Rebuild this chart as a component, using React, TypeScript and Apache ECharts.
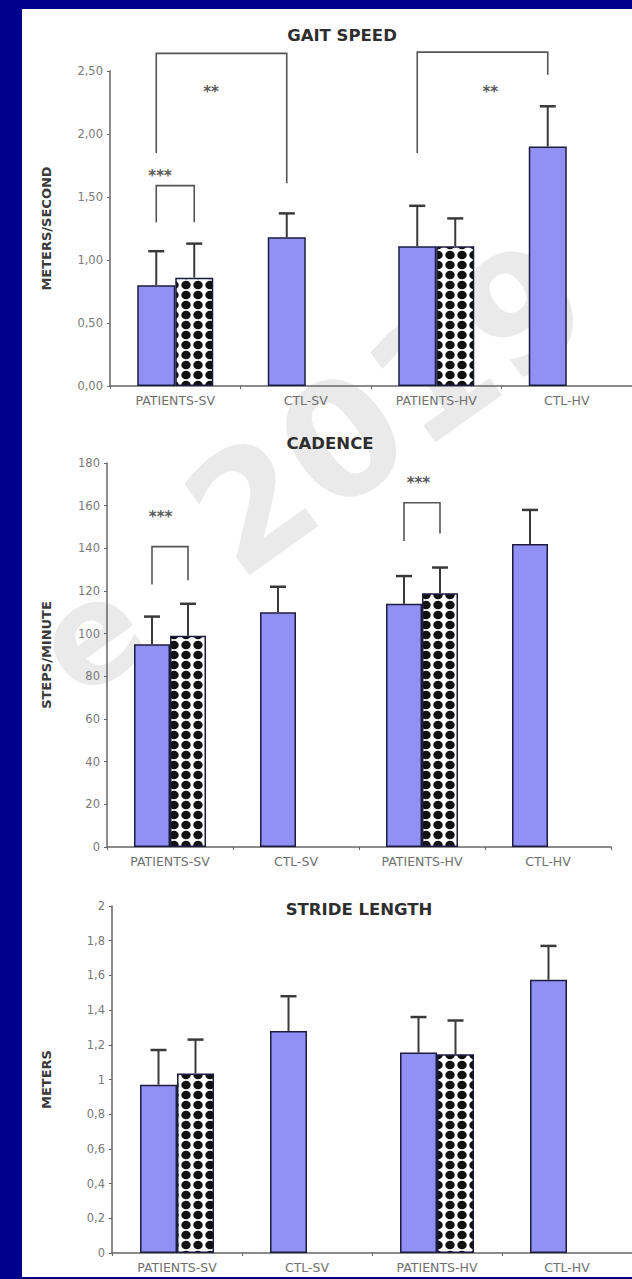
import React, { useEffect, useRef } from "react";
import * as echarts from "echarts";

// ---------- DATA ----------
const categories = ["PATIENTS-SV", "CTL-SV", "PATIENTS-HV", "CTL-HV"];

const gaitBlue = [0.8, 1.18, 1.11, 1.9];
const gaitBlueErr = [1.07, 1.37, 1.43, 2.22];
const gaitDotted = [0.86, null, 1.11, null];
const gaitDottedErr = [1.13, null, 1.33, null];

const cadenceBlue = [95, 110, 114, 142];
const cadenceBlueErr = [108, 122, 127, 158];
const cadenceDotted = [99, null, 119, null];
const cadenceDottedErr = [114, null, 131, null];

const strideBlue = [0.97, 1.28, 1.155, 1.575];
const strideBlueErr = [1.17, 1.48, 1.36, 1.77];
const strideDotted = [1.035, null, 1.145, null];
const strideDottedErr = [1.23, null, 1.34, null];

// brackets: left/right = [category index, bar side (-1 blue, +1 dotted), leg bottom value]
const gaitBrackets = [
  { l: [0, -1, 1.85], r: [1, -1, 1.61], top: 2.64, stars: "**", starY: 2.33, t: 0.42 },
  { l: [0, -1, 1.3], r: [0, 1, 1.3], top: 1.59, stars: "***", starY: 1.67, t: 0.1 },
  { l: [2, -1, 1.85], r: [3, -1, 2.47], top: 2.65, stars: "**", starY: 2.33, t: 0.56 },
];
const cadenceBrackets = [
  { l: [0, -1, 123], r: [0, 1, 125], top: 140.8, stars: "***", starY: 154.5, t: 0.24 },
  { l: [2, -1, 143.4], r: [2, 1, 146.9], top: 161.4, stars: "***", starY: 170.8, t: 0.4 },
];
const strideBrackets: any[] = [];

const titles = ["GAIT SPEED", "CADENCE", "STRIDE LENGTH"];
const yNames = ["METERS/SECOND", "STEPS/MINUTE", "METERS"];
const watermarkParts = ["e", "2019"];

// ---------- STYLE ----------
const BLUE = "#9191f5";
const BORDER = "#1c1c40";
const FONT = "DejaVu Sans";

function makePattern(): HTMLCanvasElement {
  const c = document.createElement("canvas");
  c.width = 12;
  c.height = 10;
  const ctx = c.getContext("2d")!;
  ctx.fillStyle = "#ffffff";
  ctx.fillRect(0, 0, 12, 10);
  ctx.fillStyle = "#111111";
  ctx.beginPath();
  ctx.ellipse(6, 5, 4.7, 4.3, 0, 0, Math.PI * 2);
  ctx.fill();
  return c;
}

export default function App() {
  const ref = useRef<HTMLDivElement>(null);

  useEffect(() => {
    if (!ref.current) return;
    const chart = echarts.init(ref.current, undefined, { renderer: "svg" });
    const pattern = { image: makePattern(), repeat: "repeat" } as any;

    const panels = [
      {
        grid: { left: 110, top: 71, width: 522, height: 315 },
        min: 0, max: 2.5, interval: 0.5,
        fmt: (v: number) => v.toFixed(2).replace(".", ","),
        blue: gaitBlue, blueErr: gaitBlueErr, dotted: gaitDotted, dottedErr: gaitDottedErr,
        brackets: gaitBrackets, barW: 38, nameGap: 64, title: [342, 35],
      },
      {
        grid: { left: 107, top: 463, width: 504, height: 384 },
        min: 0, max: 180, interval: 20,
        fmt: (v: number) => String(v),
        blue: cadenceBlue, blueErr: cadenceBlueErr, dotted: cadenceDotted, dottedErr: cadenceDottedErr,
        brackets: cadenceBrackets, barW: 36, nameGap: 61, title: [330, 443],
      },
      {
        grid: { left: 112, top: 906, width: 520, height: 347 },
        min: 0, max: 2, interval: 0.2,
        fmt: (v: number) => String(parseFloat(v.toFixed(1))).replace(".", ","),
        blue: strideBlue, blueErr: strideBlueErr, dotted: strideDotted, dottedErr: strideDottedErr,
        brackets: strideBrackets, barW: 37, nameGap: 66, title: [359, 909],
      },
    ];

    const wmStyle = {
      textAlign: "center",
      textVerticalAlign: "middle",
      fontWeight: "bold",
      fontFamily: FONT,
      fill: "#eaeaea",
    };

    const grid: any[] = [];
    const xAxis: any[] = [];
    const yAxis: any[] = [];
    const series: any[] = [];
    const graphic: any[] = [
      { type: "rect", shape: { x: 22, y: 9, width: 610, height: 1268 }, style: { fill: "#ffffff" }, z: -10 },
      { type: "text", x: 90, y: 635, rotation: 0.62, z: -5, style: { ...wmStyle, fontSize: 140, text: watermarkParts[0] } },
      { type: "text", x: 388, y: 408, rotation: 0.62, z: -5, style: { ...wmStyle, fontSize: 160, text: watermarkParts[1] } },
    ];

    panels.forEach((p, i) => {
      grid.push(p.grid);
      xAxis.push({
        type: "category",
        gridIndex: i,
        data: categories,
        axisLine: { lineStyle: { color: "#666", width: 1.5 } },
        axisTick: { show: true, length: 3, lineStyle: { color: "#666" } },
        axisLabel: { color: "#707070", fontSize: 12.5, fontFamily: FONT, margin: 8, interval: 0 },
      });
      yAxis.push({
        type: "value",
        gridIndex: i,
        min: p.min,
        max: p.max,
        interval: p.interval,
        name: yNames[i],
        nameLocation: "middle",
        nameRotate: 90,
        nameGap: p.nameGap,
        nameTextStyle: { color: "#3a3a3a", fontSize: 13, fontWeight: "bold", fontFamily: FONT, verticalAlign: "middle" },
        splitLine: { show: false },
        axisLine: { show: true, lineStyle: { color: "#666", width: 1.5 } },
        axisTick: { show: true, length: 3, lineStyle: { color: "#666" } },
        axisLabel: { color: "#7a7a7a", fontSize: 11.5, fontFamily: FONT, margin: 7, formatter: p.fmt },
      });
      series.push({
        type: "bar",
        xAxisIndex: i,
        yAxisIndex: i,
        data: p.blue,
        barWidth: p.barW,
        barGap: "0%",
        itemStyle: { color: BLUE, borderColor: BORDER, borderWidth: 1.5 },
        z: 2,
      });
      series.push({
        type: "bar",
        xAxisIndex: i,
        yAxisIndex: i,
        data: p.dotted,
        barWidth: p.barW,
        barGap: "0%",
        itemStyle: { color: pattern, borderColor: BORDER, borderWidth: 1.5 },
        z: 2,
      });
      const errSeries = (vals: (number | null)[], errs: (number | null)[], side: number) => {
        const data: any[] = [];
        vals.forEach((v, k) => {
          if (v != null && errs[k] != null) data.push([k, v, errs[k]]);
        });
        return {
          type: "custom",
          xAxisIndex: i,
          yAxisIndex: i,
          z: 3,
          clip: false,
          data,
          renderItem: (_params: any, api: any) => {
            const c = api.value(0);
            const p0 = api.coord([c, api.value(1)]);
            const p1 = api.coord([c, api.value(2)]);
            const x = p0[0] + (side * p.barW) / 2;
            return {
              type: "group",
              children: [
                { type: "line", shape: { x1: x, y1: p0[1], x2: x, y2: p1[1] }, style: { stroke: "#3a3a3a", lineWidth: 2 } },
                { type: "line", shape: { x1: x - 8, y1: p1[1], x2: x + 8, y2: p1[1] }, style: { stroke: "#3a3a3a", lineWidth: 2.5 } },
              ],
            };
          },
        };
      };
      series.push(errSeries(p.blue, p.blueErr, -1));
      series.push(errSeries(p.dotted, p.dottedErr, 1));
      if (p.brackets.length) {
        const list = p.brackets;
        series.push({
          type: "custom",
          xAxisIndex: i,
          yAxisIndex: i,
          z: 4,
          clip: false,
          data: list.map((b: any) => [b.l[0], b.top]),
          renderItem: (params: any, api: any) => {
            const b = list[params.dataIndex];
            const pL = api.coord([b.l[0], b.l[2]]);
            const pR = api.coord([b.r[0], b.r[2]]);
            const pT = api.coord([b.l[0], b.top]);
            const pS = api.coord([b.l[0], b.starY]);
            const xL = pL[0] + (b.l[1] * p.barW) / 2;
            const xR = pR[0] + (b.r[1] * p.barW) / 2;
            return {
              type: "group",
              children: [
                {
                  type: "polyline",
                  shape: { points: [[xL, pL[1]], [xL, pT[1]], [xR, pT[1]], [xR, pR[1]]] },
                  style: { stroke: "#555", lineWidth: 1.6, fill: null },
                },
                {
                  type: "text",
                  x: xL + (xR - xL) * b.t,
                  y: pS[1],
                  style: {
                    text: b.stars,
                    textAlign: "center",
                    textVerticalAlign: "middle",
                    fontSize: 15,
                    fontWeight: "bold",
                    fontFamily: FONT,
                    fill: "#5a5a5a",
                  },
                },
              ],
            };
          },
        });
      }
      graphic.push({
        type: "text",
        x: p.title[0],
        y: p.title[1],
        style: {
          text: titles[i],
          textAlign: "center",
          textVerticalAlign: "middle",
          fontSize: 16.5,
          fontWeight: "bold",
          fontFamily: FONT,
          fill: "#2e2e2e",
        },
        z: 5,
      });
    });

    chart.setOption({
      animation: false,
      backgroundColor: "#00008c",
      grid,
      xAxis,
      yAxis,
      series,
      graphic,
    });

    return () => chart.dispose();
  }, []);

  return (
    <div
      ref={ref}
      style={{ position: "fixed", left: 0, top: 0, width: 632, height: 1279 }}
    />
  );
}
